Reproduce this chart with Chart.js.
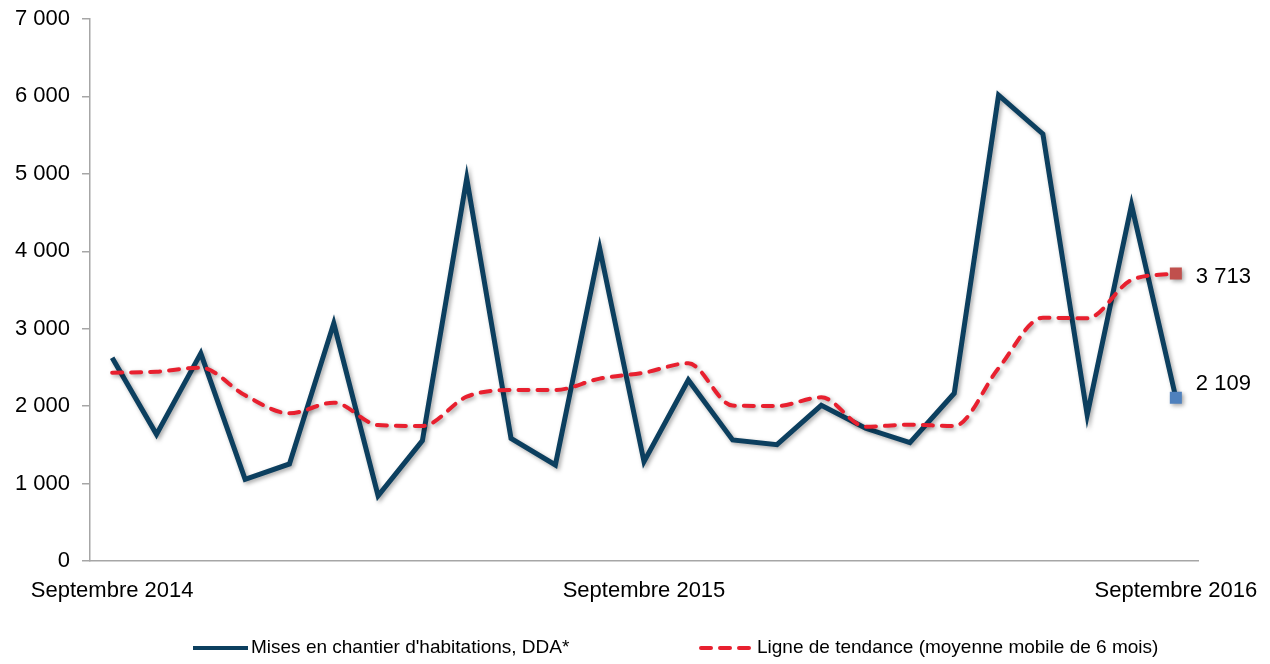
<!DOCTYPE html>
<html lang="fr">
<head>
<meta charset="utf-8">
<title>Mises en chantier d'habitations</title>
<script src="https://cdn.jsdelivr.net/npm/chart.js@4.4.1/dist/chart.umd.min.js"></script>
<style>
  html, body { margin: 0; padding: 0; background: #fff; }
  #wrap { width: 1270px; height: 664px; position: relative; }
</style>
</head>
<body>
<div id="wrap"><canvas id="chart"></canvas></div>
<script>
// ---- data ----
const months = [
  'Septembre 2014', 'Octobre 2014', 'Novembre 2014', 'Décembre 2014',
  'Janvier 2015', 'Février 2015', 'Mars 2015', 'Avril 2015', 'Mai 2015',
  'Juin 2015', 'Juillet 2015', 'Août 2015', 'Septembre 2015',
  'Octobre 2015', 'Novembre 2015', 'Décembre 2015', 'Janvier 2016',
  'Février 2016', 'Mars 2016', 'Avril 2016', 'Mai 2016', 'Juin 2016',
  'Juillet 2016', 'Août 2016', 'Septembre 2016'
];

const misesEnChantier = [
  2626, 1636, 2682, 1055, 1253, 3070, 843, 1554, 4942, 1584, 1240, 4038, 1283,
  2338, 1563, 1502, 2011, 1714, 1528, 2166, 6018, 5515, 1886, 4598, 2109
];

const tendance = [
  2432, 2445, 2497, 2140, 1907, 2045, 1756, 1743, 2122, 2208, 2208, 2355, 2432,
  2553, 2007, 2002, 2114, 1735, 1761, 1743, 2490, 3142, 3134, 3629, 3713
];

const shownTicks = ['Septembre 2014', 'Septembre 2015', 'Septembre 2016'];

const serieLabels = [
  "Mises en chantier d'habitations, DDA*",
  'Ligne de tendance (moyenne mobile de 6 mois)'
];

// ---- helpers ----
const FONT = '"Liberation Sans", Arial, sans-serif';

function fmt(v) {
  return String(Math.round(v)).replace(/\B(?=(\d{3})+(?!\d))/g, ' ');
}

function lastOnly(color) {
  return (ctx) => (ctx.dataIndex === months.length - 1 ? color : 'rgba(0,0,0,0)');
}

// drop shadow under the lines
const shadowPlugin = {
  id: 'shadow',
  beforeDatasetDraw(chart) {
    const c = chart.ctx;
    c.save();
    c.shadowColor = 'rgba(0,0,0,0.35)';
    c.shadowBlur = 4;
    c.shadowOffsetX = 2;
    c.shadowOffsetY = 2;
  },
  afterDatasetDraw(chart) {
    chart.ctx.restore();
  }
};

// value label next to the last point of each serie
const endLabels = {
  id: 'endLabels',
  afterDatasetsDraw(chart, args, opts) {
    const c = chart.ctx;
    c.save();
    c.font = '22px ' + FONT;
    c.fillStyle = '#000';
    c.textAlign = 'left';
    c.textBaseline = 'middle';
    chart.data.datasets.forEach((ds, i) => {
      const meta = chart.getDatasetMeta(i);
      const last = meta.data[meta.data.length - 1];
      const dy = opts.dy[i] || 0;
      c.fillText(fmt(ds.data[ds.data.length - 1]), last.x + 20, last.y + dy);
    });
    c.restore();
  }
};

// bottom legend, placed like the original
const bottomLegend = {
  id: 'bottomLegend',
  afterDraw(chart, args, opts) {
    const c = chart.ctx;
    c.save();
    c.font = '19px ' + FONT;
    c.textBaseline = 'middle';
    c.textAlign = 'left';
    chart.data.datasets.forEach((ds, i) => {
      const x = opts.x[i];
      const y = opts.y;
      c.strokeStyle = ds.borderColor;
      c.lineWidth = 4;
      c.lineCap = ds.borderDash ? 'round' : 'butt';
      c.setLineDash(ds.borderDash || []);
      c.beginPath();
      c.moveTo(x + (ds.borderDash ? 2 : 0), y);
      c.lineTo(x + opts.boxWidth, y);
      c.stroke();
      c.setLineDash([]);
      c.fillStyle = '#000';
      c.fillText(ds.label, x + opts.boxWidth + 3, y);
    });
    c.restore();
  }
};

const chart = new Chart(document.getElementById('chart'), {
  type: 'line',
  data: {
    labels: months,
    datasets: [
      {
        label: serieLabels[0],
        data: misesEnChantier,
        borderColor: '#0c3f5f',
        borderWidth: 5,
        tension: 0,
        borderJoinStyle: 'miter',
        pointStyle: 'rect',
        pointRadius: (ctx) => (ctx.dataIndex === months.length - 1 ? 8.5 : 0),
        pointBackgroundColor: lastOnly('#4f81bd'),
        pointBorderWidth: 0,
        order: 1
      },
      {
        label: serieLabels[1],
        data: tendance,
        borderColor: '#e8202f',
        borderWidth: 4,
        borderDash: [10, 9],
        borderCapStyle: 'round',
        cubicInterpolationMode: 'monotone',
        pointStyle: 'rect',
        pointRadius: (ctx) => (ctx.dataIndex === months.length - 1 ? 8.5 : 0),
        pointBackgroundColor: lastOnly('#c0504d'),
        pointBorderWidth: 0,
        order: 0
      }
    ]
  },
  options: {
    responsive: true,
    maintainAspectRatio: false,
    animation: false,
    layout: { padding: { left: 0, right: 72, top: 19, bottom: 50 } },
    plugins: {
      legend: { display: false },
      tooltip: { enabled: false },
      endLabels: { dy: [-14, 3] },
      bottomLegend: { x: [193, 699], y: 648, boxWidth: 55 }
    },
    scales: {
      x: {
        offset: true,
        grid: { display: false, drawTicks: false },
        border: { display: true, color: '#a6a6a6', width: 1.5 },
        ticks: {
          autoSkip: false,
          maxRotation: 0,
          minRotation: 0,
          padding: 17,
          color: '#000',
          font: { family: FONT, size: 22 },
          callback: (val, i) => (shownTicks.includes(months[i]) ? months[i] : '')
        },
        afterFit: (s) => { s.height = 53; s.paddingLeft = 0; s.paddingRight = 0; }
      },
      y: {
        min: 0,
        max: 7000,
        grid: { drawOnChartArea: false, tickLength: 8, color: '#a6a6a6', lineWidth: 1.5 },
        border: { display: true, color: '#a6a6a6', width: 1.5 },
        ticks: {
          stepSize: 1000,
          padding: 12,
          color: '#000',
          font: { family: FONT, size: 22 },
          callback: (v) => fmt(v)
        },
        afterFit: (s) => { s.width = 90; s.paddingTop = 0; s.paddingBottom = 0; }
      }
    }
  },
  plugins: [shadowPlugin, endLabels, bottomLegend]
});
</script>
</body>
</html>
